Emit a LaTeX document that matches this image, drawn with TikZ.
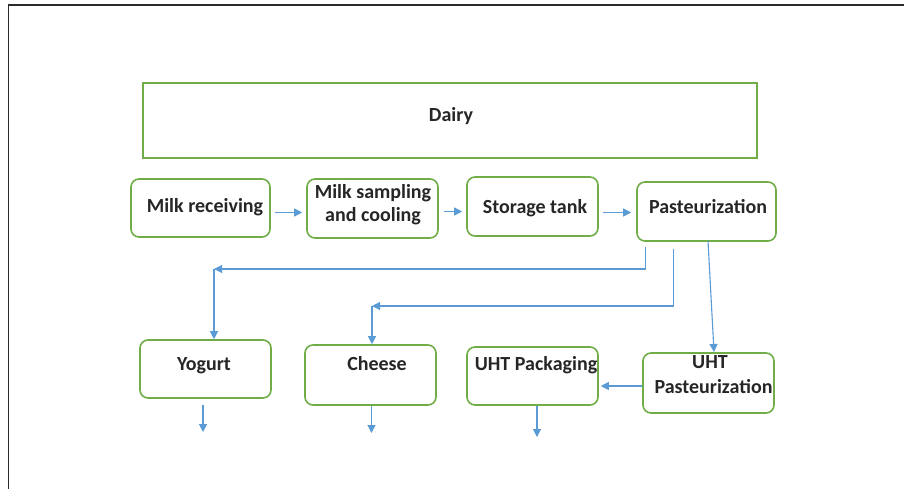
\documentclass[tikz,border=0pt]{standalone}
\usepackage{fontspec}
\setmainfont{Carlito}
\usetikzlibrary{arrows.meta}
\definecolor{boxgreen}{HTML}{70AD47}
\definecolor{arrblue}{HTML}{5B9BD5}
\definecolor{framegray}{HTML}{2B2B2B}
\begin{document}
\begin{tikzpicture}[x=1pt,y=-1pt,
  box/.style={draw=boxgreen,line width=1.6pt,rounded corners=8pt,inner sep=0pt},
  bigbox/.style={draw=boxgreen,line width=1.6pt,inner sep=0pt},
  lbl/.style={font=\fontsize{20}{24}\selectfont\bfseries,anchor=base,inner sep=0pt,text=black!85},
  arr/.style={draw=arrblue,line width=1.1pt,-{Triangle[length=8pt,width=8pt]}},
  ln/.style={draw=arrblue,line width=1.1pt}]
\useasboundingbox (0,0) rectangle (904,489);
\fill[white] (0,0) rectangle (904,489);
% frame
\coordinate (f1) at (8.5,489);
\coordinate (f2) at (8.5,5);
\coordinate (f3) at (904,5);
\draw[framegray,line width=1.8pt] (f1) -- (f2) -- (f3);
% boxes
\node[bigbox,minimum width=614pt,minimum height=75pt] (dairy) at (450,120.5) {};
\node[box,minimum width=139pt,minimum height=58pt] (mr) at (200.5,208) {};
\node[box,minimum width=131pt,minimum height=59pt] (ms) at (372.5,208.5) {};
\node[box,minimum width=131pt,minimum height=59pt] (st) at (532.5,206.5) {};
\node[box,minimum width=139pt,minimum height=59pt] (pa) at (706.5,211.5) {};
\node[box,minimum width=131pt,minimum height=58pt] (yo) at (205.5,369) {};
\node[box,minimum width=131pt,minimum height=60pt] (ch) at (370.5,375) {};
\node[box,minimum width=131pt,minimum height=58pt] (up) at (532.5,376) {};
\node[box,minimum width=131pt,minimum height=60pt] (uh) at (708.5,383) {};
% labels
\node[lbl] (tdairy) at (451,122) {Dairy};
\node[lbl] (tmr) at (205,212.5) {Milk receiving};
\node[lbl] (tms1) at (373,198) {Milk sampling};
\node[lbl] (tms2) at (373,221) {and cooling};
\node[lbl] (tst) at (535,213.5) {Storage tank};
\node[lbl] (tpa) at (708,213) {Pasteurization};
\node[lbl] (tyo) at (204,370.5) {Yogurt};
\node[lbl] (tch) at (377,370.5) {Cheese};
\node[lbl] (tup) at (536,370) {UHT Packaging};
\node[lbl] (tuh1) at (710,368) {UHT};
\node[lbl] (tuh2) at (713.5,393) {Pasteurization};
% row arrows
\draw[arr] ([xshift=4pt,yshift=-4.5pt]mr.east) -- ([xshift=-4pt,yshift=-4.5pt]mr.east -| ms.west);
\draw[arr] ([xshift=5pt,yshift=-3pt]ms.east) -- ([xshift=-4pt,yshift=-3pt]ms.east -| st.west);
\draw[arr] ([xshift=4pt,yshift=-6pt]st.east) -- ([xshift=-5pt,yshift=-6pt]st.east -| pa.west);
% branches from pasteurization
\coordinate (c1) at (214,269);
\coordinate (c2) at (372,306);
\coordinate (s1) at (645.5,247);
\coordinate (s2) at (673.5,249);
\draw[arr] (s1) |- (c1);
\draw[arr] (c1) -- (c1 |- yo.north);
\draw[arr] (s2) |- (c2);
\draw[arr] (c2) -- (c2 |- ch.north);
\coordinate (s3) at (708,241);
\coordinate (e3) at (714,352);
\draw[arr] (s3) -- (e3);
\draw[arr] ([yshift=-3pt]uh.west) -- ([xshift=2pt,yshift=-3pt]uh.west -| up.east);
% outgoing arrows
\coordinate (o1) at (203,432);
\coordinate (o2) at (371.5,433);
\coordinate (o3) at (537,437);
\draw[arr] (o1 |- yo.south) ++(0,6) -- (o1);
\draw[arr] (o2 |- ch.south) -- (o2);
\draw[arr] (o3 |- up.south) -- (o3);
\end{tikzpicture}
\end{document}
